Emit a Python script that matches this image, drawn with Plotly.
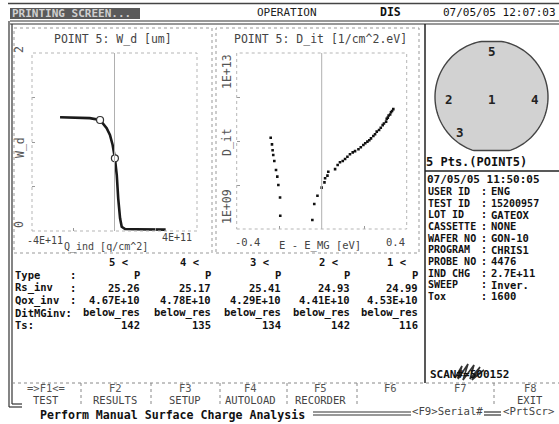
import numpy as np
import plotly.graph_objects as go

W, H = 559, 424

# ---------------- data ----------------
# W_d vs Q_ind (point 5)
q_ind = [-2.64e11, -2.2e11, -1.7e11, -1.2e11, -0.70e11, -0.38e11, -0.22e11, -0.09e11,
         0.02e11, 0.11e11, 0.18e11, 0.27e11, 0.35e11, 0.51e11, 1.0e11, 1.6e11, 2.48e11]
w_d = [1.278, 1.276, 1.274, 1.268, 1.247, 1.154, 1.079, 0.966,
       0.817, 0.629, 0.367, 0.143, 0.048, 0.022, 0.020, 0.018, 0.015]
q_mark = [-0.70e11, 0.02e11]
w_mark = [1.247, 0.817]

# D_it vs E - E_MG
e_left = [-0.240, -0.234, -0.231, -0.228, -0.223, -0.215, -0.209, -0.204, -0.196, -0.195]
dit_left = [1.19e11, 8.4e10, 6.15e10, 4.8e10, 3.5e10, 2.2e10, 1.55e10, 1.0e10, 5.2e9, 2.0e9]
e_right = [-0.044, -0.035, -0.020, 0.000, 0.013, 0.016, 0.027, 0.031, 0.063, 0.075,
           0.086, 0.099, 0.110, 0.121, 0.133, 0.146, 0.157, 0.173, 0.184, 0.196,
           0.205, 0.215, 0.224, 0.232, 0.243, 0.251, 0.259, 0.270, 0.278, 0.287,
           0.293, 0.303, 0.306, 0.311, 0.315, 0.322, 0.326, 0.331, 0.337]
dit_right = [1.6e9, 3.7e9, 5.7e9, 8.7e9, 1.15e10, 1.42e10, 1.63e10, 2.0e10, 2.3e10, 2.85e10,
             3.3e10, 3.5e10, 3.9e10, 4.4e10, 5.0e10, 5.5e10, 5.9e10, 6.5e10, 7.2e10, 8.1e10,
             8.9e10, 9.7e10, 1.04e11, 1.15e11, 1.3e11, 1.42e11, 1.63e11, 1.78e11, 2.0e11, 2.3e11,
             2.5e11, 2.75e11, 3.2e11, 3.4e11, 3.8e11, 4.0e11, 4.5e11, 4.8e11, 5.3e11]

# results table
point_ids = ["5", "4", "3", "2", "1"]
type_vals = ["P", "P", "P", "P", "P"]
rs_inv = ["25.26", "25.17", "25.41", "24.93", "24.99"]
qox_inv = ["4.67E+10", "4.78E+10", "4.29E+10", "4.41E+10", "4.53E+10"]
dit_mg = ["below_res"] * 5
ts_vals = ["142", "135", "134", "142", "116"]

# info panel
info_labels = ["USER ID", "TEST ID", "LOT ID", "CASSETTE", "WAFER NO", "PROGRAM",
               "PROBE NO", "IND CHG", "SWEEP", "Tox"]
info_values = ["ENG", "15200957", "GATEOX", "NONE", "GON-10", "CHRIS1",
               "4476", "2.7E+11", "Inver.", "1600"]

# wafer site labels
site_labels = ["5", "2", "1", "4", "3"]

# function keys
fkey_top = ["=>F1<=", "F2", "F3", "F4", "F5", "F6", "F7", "F8"]
fkey_bottom = ["TEST", "RESULTS", "SETUP", "AUTOLOAD", "RECORDER", "", "", "EXIT"]


def X(p):
    return p / W


def Y(p):
    return 1 - p / H


MONO = "DejaVu Sans Mono"
annotations = []
shapes = []


def txt(x, y, s, size=11.5, color="#111", bold=False, anchor="left", angle=0,
        family=MONO):
    annotations.append(dict(
        x=X(x), y=Y(y), xref="paper", yref="paper", text=s, showarrow=False,
        xanchor=anchor, yanchor="middle", textangle=angle, borderpad=0, borderwidth=0,
        font=dict(family=family, size=size, color=color,
                  weight="bold" if bold else "normal")))


def hline(x0, x1, y, color="#222", width=1, dash="solid"):
    shapes.append(dict(type="line", xref="paper", yref="paper", x0=X(x0), x1=X(x1),
                       y0=Y(y), y1=Y(y), line=dict(color=color, width=width, dash=dash)))


def vline(x, y0, y1, color="#222", width=1, dash="solid"):
    shapes.append(dict(type="line", xref="paper", yref="paper", x0=X(x), x1=X(x),
                       y0=Y(y0), y1=Y(y1), line=dict(color=color, width=width, dash=dash)))


def rect(x0, y0, x1, y1, line_color="#888", fill="rgba(0,0,0,0)", width=1, dash="solid"):
    shapes.append(dict(type="rect", xref="paper", yref="paper", x0=X(x0), x1=X(x1),
                       y0=Y(y1), y1=Y(y0), fillcolor=fill,
                       line=dict(color=line_color, width=width, dash=dash), layer="below"))


# ---------------- figure ----------------
fig = go.Figure()
fig.add_trace(go.Scatter(x=q_ind, y=w_d, mode="lines",
                         line=dict(color="#1a1a1a", width=2.6),
                         xaxis="x", yaxis="y", showlegend=False, hoverinfo="skip"))
fig.add_trace(go.Scatter(x=q_mark, y=w_mark, mode="markers",
                         marker=dict(symbol="circle", size=7, color="white",
                                     line=dict(color="#333", width=1.2)),
                         xaxis="x", yaxis="y", showlegend=False, hoverinfo="skip"))
fig.add_trace(go.Scatter(x=e_left + e_right, y=dit_left + dit_right, mode="markers",
                         marker=dict(symbol="square", size=2.6, color="#111"),
                         xaxis="x2", yaxis="y2", showlegend=False, hoverinfo="skip"))

# ----- header -----
hline(8, 559, 3.5, color="#444", width=1.5)
rect(10, 8, 140, 19, line_color="#555", fill="#5a5a5a", width=0)
txt(12, 13.5, "PRINTING SCREEN...", size=11, color="#cfcfcf", bold=True)
txt(287, 12.5, "OPERATION", size=11, color="#222", anchor="center")
txt(390, 12.5, "DIS", size=11.5, color="#111", bold=True, anchor="center")
txt(499, 12.5, "07/05/05 12:07:03", size=11, color="#111", anchor="center")
hline(10, 559, 21, color="#333", width=1.2)
hline(10, 559, 24, color="#333", width=1.2)

# left screen border (double line)
vline(9, 21, 407, color="#333", width=1.2)
vline(12, 24, 404, color="#333", width=1.2)
hline(9, 22, 407, color="#333", width=1.2)
hline(12, 22, 404, color="#333", width=1.2)

# right divider
vline(425, 24, 383, color="#222", width=1.5)
hline(425, 559, 171, color="#222", width=1.5)

# ----- plot panels -----
rect(14, 28, 212, 253, line_color="#999", dash="dot")
rect(216, 28, 419, 253, line_color="#999", dash="dot")

txt(113, 39, "POINT 5: W_d [um]", size=11.5, color="#444", anchor="center")
txt(320, 39, "POINT 5: D_it [1/cm^2.eV]", size=11.5, color="#444", anchor="center")

# left plot axis labels
txt(19, 50, "2", size=11.5, color="#555", anchor="center", angle=-90)
txt(20, 148, "W_d", size=11.5, color="#555", anchor="center", angle=-90)
txt(19, 225, "0", size=11.5, color="#555", anchor="center", angle=-90)
txt(45, 240, "-4E+11", size=10, color="#444", anchor="center")
txt(106, 246.5, "Q_ind [q/cm^2]", size=10, color="#444", anchor="center")
txt(177, 237, "4E+11", size=10, color="#444", anchor="center")

# right plot axis labels
txt(227, 72, "1E+13", size=11.5, color="#555", anchor="center", angle=-90)
txt(227, 142, "D_it", size=11.5, color="#555", anchor="center", angle=-90)
txt(227, 207, "1E+09", size=11.5, color="#555", anchor="center", angle=-90)
txt(247, 241.5, "-0.4", size=10.5, color="#444", anchor="center")
txt(320, 245.5, "E - E_MG [eV]", size=10.5, color="#444", anchor="center")
txt(395, 241.5, "0.4", size=10.5, color="#444", anchor="center")

# plot-area dotted frames and centre line
for xr, yr in (("x", "y"), ("x2", "y2")):
    shapes.append(dict(type="rect", xref=xr + " domain", yref=yr + " domain",
                       x0=0, x1=1, y0=0, y1=1,
                       line=dict(color="#b5b5b5", width=1, dash="dot")))
    shapes.append(dict(type="line", xref=xr, yref=yr + " domain", x0=0, x1=0, y0=0, y1=1,
                       line=dict(color="#b0b0b0", width=1)))

# ----- results table -----
TF = 10.5
col_right = [140, 211, 281, 350, 418]
row_y = [275, 287.5, 300, 312.5, 325]
for cx, pid in zip(col_right, point_ids):
    txt(cx - 12, 262, pid + " <", size=TF, color="#111", bold=True, anchor="right")
txt(15, row_y[0], "Type", size=TF, bold=True)
txt(15, row_y[1], "Rs_inv", size=TF, bold=True)
txt(15, row_y[2], "Qox_inv", size=TF, bold=True)
for ry in row_y[:3]:
    txt(73, ry, ":", size=TF, bold=True, anchor="center")
txt(15, row_y[3], "DitMGinv:", size=TF, bold=True)
txt(15, row_y[4], "Ts:", size=TF, bold=True)
for vals, ry in zip([type_vals, rs_inv, qox_inv, dit_mg, ts_vals], row_y):
    for cx, v in zip(col_right, vals):
        txt(cx, ry, v, size=TF, bold=True, anchor="right")

# ----- wafer map -----
cx_w, cy_w, r_w = 491.5, 97.0, 56.5
ang = np.linspace(0, 2 * np.pi, 181)
wx = cx_w + r_w * np.cos(ang)
wy = np.clip(cy_w + r_w * np.sin(ang), 41.5, 150.5)
path = "M " + " L ".join(f"{X(a):.5f},{Y(b):.5f}" for a, b in zip(wx, wy)) + " Z"
shapes.append(dict(type="path", xref="paper", yref="paper", path=path,
                   fillcolor="#d2d2d2", line=dict(color="#444", width=1.4), layer="below"))
site_xy = [(491.7, 52), (448.5, 99), (491.7, 99), (535, 99), (460, 132)]
for (sx, sy), lab in zip(site_xy, site_labels):
    txt(sx, sy, lab, size=12.5, color="#222", bold=True, anchor="center")
txt(426, 162, "5 Pts.(POINT5)", size=12, color="#111", bold=True)

# ----- info panel -----
txt(427, 179, "07/05/05 11:50:05", size=11, color="#111", bold=True)
for i, (lab, val) in enumerate(zip(info_labels, info_values)):
    yy = 191.5 + i * 11.65
    txt(428, yy, lab, size=10, color="#111", bold=True)
    txt(484, yy, ":", size=10, color="#111", bold=True, anchor="center")
    txt(491, yy, val, size=10.5 if i != 1 else 10, color="#111", bold=True)

# scan number with scribble
txt(430, 374, "SCAN#=500152", size=11, color="#111", bold=True)
scrib_x = [455, 462, 458, 468, 463, 474, 470, 480, 472, 484, 476]
scrib_y = [378, 366, 379, 364, 380, 365, 379, 367, 380, 370, 376]
spath = "M " + " L ".join(f"{X(a):.5f},{Y(b):.5f}" for a, b in zip(scrib_x, scrib_y))
shapes.append(dict(type="path", xref="paper", yref="paper", path=spath,
                   line=dict(color="#333", width=1.6)))

# ----- function key row -----
hline(12, 559, 383, color="#888", width=1, dash="dot")
for sx in [81, 151, 220, 287, 357, 494]:
    vline(sx, 383, 404, color="#888", width=1, dash="dot")
fk_centers = [46, 115, 185, 250, 320, 390, 460, 530]
for fx, t1, t2 in zip(fk_centers, fkey_top, fkey_bottom):
    txt(fx, 387.5, t1, size=10.5, color="#555", anchor="center")
    if t2:
        txt(fx, 400, t2, size=10.5, color="#444", anchor="center")

# ----- bottom status line -----
txt(40, 414.5, "Perform Manual Surface Charge Analysis", size=11.6, color="#111", bold=True)
hline(313, 411, 412, color="#333", width=1.2)
hline(313, 411, 415, color="#333", width=1.2)
txt(412, 411.5, "<F9>Serial#", size=10.7, color="#444")
hline(484, 501, 412, color="#333", width=1.2)
hline(484, 501, 415, color="#333", width=1.2)
txt(503, 411.5, "<PrtScr>", size=10.7, color="#444")

axis_common = dict(showgrid=False, zeroline=False, showticklabels=False, showline=False,
                   ticks="inside", ticklen=3, tickcolor="#999", fixedrange=True)

fig.update_layout(
    width=W, height=H, autosize=False,
    margin=dict(l=0, r=0, t=0, b=0),
    paper_bgcolor="white", plot_bgcolor="rgba(0,0,0,0)",
    showlegend=False,
    xaxis=dict(domain=[X(32), X(197)], range=[-4e11, 4e11], anchor="y",
               tickvals=[-2e11, 2e11], **axis_common),
    yaxis=dict(domain=[Y(231), Y(53)], range=[0, 2], anchor="x",
               tickvals=[0.5, 1.0, 1.5], **axis_common),
    xaxis2=dict(domain=[X(236.7), X(406.7)], range=[-0.4, 0.4], anchor="y2",
                tickvals=[-0.2, 0.2], **axis_common),
    yaxis2=dict(domain=[Y(229), Y(53)], type="log", range=[9, 13], anchor="x2",
                tickvals=[1e10, 1e11, 1e12], **axis_common),
    annotations=annotations,
    shapes=shapes,
)

fig.write_html("out.html")
